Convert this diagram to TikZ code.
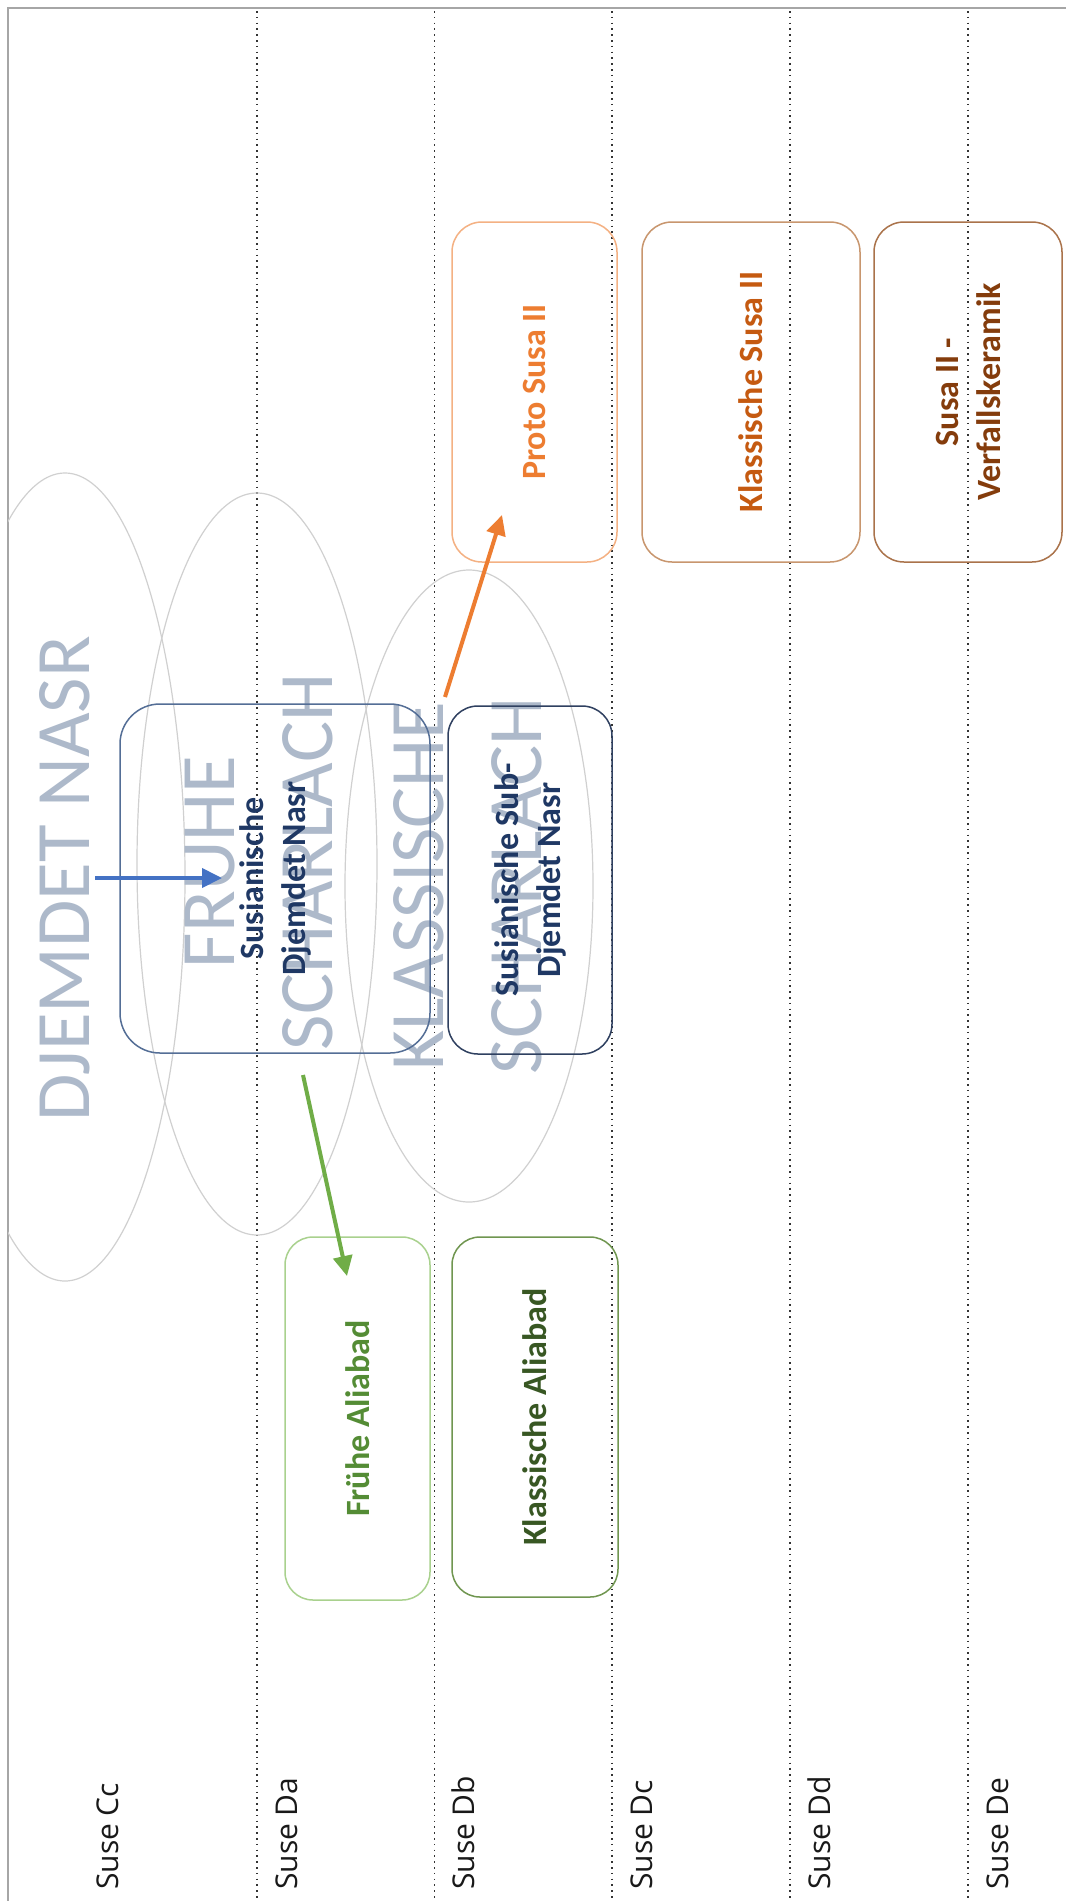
\documentclass[tikz,border=0pt]{standalone}
\usepackage{fontspec}
\setmainfont{Carlito}
\newfontfamily\lanefont{Open Sans}
\usetikzlibrary{arrows.meta}
\definecolor{wm}{RGB}{173,185,202}
\definecolor{ellc}{RGB}{208,208,208}
\definecolor{framec}{RGB}{166,166,166}
\definecolor{blueborder}{RGB}{84,110,150}
\definecolor{navyborder}{RGB}{47,64,96}
\definecolor{navytext}{RGB}{31,56,100}
\definecolor{grnborderA}{RGB}{169,209,142}
\definecolor{grnborderB}{RGB}{112,150,80}
\definecolor{grntextA}{RGB}{84,140,53}
\definecolor{grntextB}{RGB}{56,87,35}
\definecolor{orgborderA}{RGB}{244,177,131}
\definecolor{orgborderB}{RGB}{200,150,110}
\definecolor{orgborderC}{RGB}{170,115,75}
\definecolor{orgtextA}{RGB}{237,125,49}
\definecolor{orgtextB}{RGB}{197,90,17}
\definecolor{orgtextC}{RGB}{132,60,12}
\definecolor{arrblue}{RGB}{68,114,196}
\definecolor{arrgreen}{RGB}{112,173,71}
\definecolor{arrorange}{RGB}{237,125,49}
\tikzset{
  lanelabel/.style={font=\lanefont\fontsize{30}{36}\selectfont, rotate=90, anchor=base west, inner sep=0pt, text=black!90},
  wmtext/.style={font=\fontsize{77}{98}\selectfont, text=wm, rotate=90, align=center, inner sep=0pt},
  eraellipse/.style={draw=ellc, line width=1.2pt},
  phasebox/.style={rotate=90, draw, align=center, inner sep=0pt, line width=1.5pt, font=\bfseries\fontsize{34}{42}\selectfont},
  lanesep/.style={dash pattern=on 1.6pt off 4.2pt, line width=1.6pt, black!80},
  conn/.style={line width=4pt, -{Triangle[length=20pt,width=19pt]}},
}
\begin{document}
\begin{tikzpicture}[x=1pt,y=-1pt]
\useasboundingbox (0,0) rectangle (1066,1901);
\fill[white] (0,0) rectangle (1066,1901);
% frame
\draw[framec, line width=2pt] (8,1901) -- (8,8) -- (1066,8);
% lane separators
\foreach \xx in {257,434.5,612,790,968}{
  \draw[lanesep] (\xx,11) -- (\xx,1901);
}
% lane labels
\node[lanelabel] (lcc) at (118,1890) {Suse Cc};
\node[lanelabel] (lda) at (297,1890) {Suse Da};
\node[lanelabel] (ldb) at (474,1890) {Suse Db};
\node[lanelabel] (ldc) at (652,1890) {Suse Dc};
\node[lanelabel] (ldd) at (830,1890) {Suse Dd};
\node[lanelabel] (lde) at (1008,1890) {Suse De};
% era ellipses
\begin{scope}
\clip (8,8) rectangle (1066,1901);
\draw[eraellipse] (65,877) ellipse [x radius=120, y radius=404];
\draw[eraellipse] (257,864) ellipse [x radius=120, y radius=371];
\draw[eraellipse] (469,886) ellipse [x radius=124, y radius=316];
\end{scope}
% watermark texts
\node[wmtext] (djem) at (65,879) {DJEMDET NASR};
\node[wmtext] (fruehe) at (259,862) {FRUHE\\SCHARLACH};
\node[wmtext] (klass) at (467.5,886) {KLASSISCHE\\SCHARLACH};
% blue boxes
\node[phasebox, draw=blueborder, text=navytext, rounded corners=40pt, minimum width=349pt, minimum height=310pt] (sdn) at (275,878.5) {Susianische\\Djemdet Nasr};
\node[phasebox, draw=navyborder, text=navytext, rounded corners=30pt, minimum width=348pt, minimum height=164pt] (ssdn) at (530,880) {Susianische Sub-\\Djemdet Nasr};
% green boxes
\node[phasebox, draw=grnborderA, text=grntextA, rounded corners=28pt, minimum width=363pt, minimum height=145pt] (fal) at (357.5,1418.5) {Frühe Aliabad};
\node[phasebox, draw=grnborderB, text=grntextB, rounded corners=28pt, minimum width=360pt, minimum height=166pt] (kal) at (535,1417) {Klassische Aliabad};
% orange boxes
\node[phasebox, draw=orgborderA, text=orgtextA, rounded corners=30pt, minimum width=340pt, minimum height=165pt] (psu) at (534.5,392) {Proto Susa II};
\node[phasebox, draw=orgborderB, text=orgtextB, rounded corners=30pt, minimum width=340pt, minimum height=218pt] (ksu) at (751,392) {Klassische Susa II};
\node[phasebox, draw=orgborderC, text=orgtextC, rounded corners=30pt, minimum width=340pt, minimum height=188pt] (vsu) at (968,392) {Susa II -\\Verfallskeramik};
% connectors
\coordinate (bstart) at (95,878);
\coordinate (bend) at (222,878);
\coordinate (gstart) at (303,1075);
\coordinate (gend) at (347,1276);
\coordinate (ostart) at (445,697);
\coordinate (oend) at (502,515);
\draw[conn, arrblue] (bstart) -- (bend);
\draw[conn, arrgreen] (gstart) -- (gend);
\draw[conn, arrorange] (ostart) -- (oend);
\end{tikzpicture}
\end{document}
